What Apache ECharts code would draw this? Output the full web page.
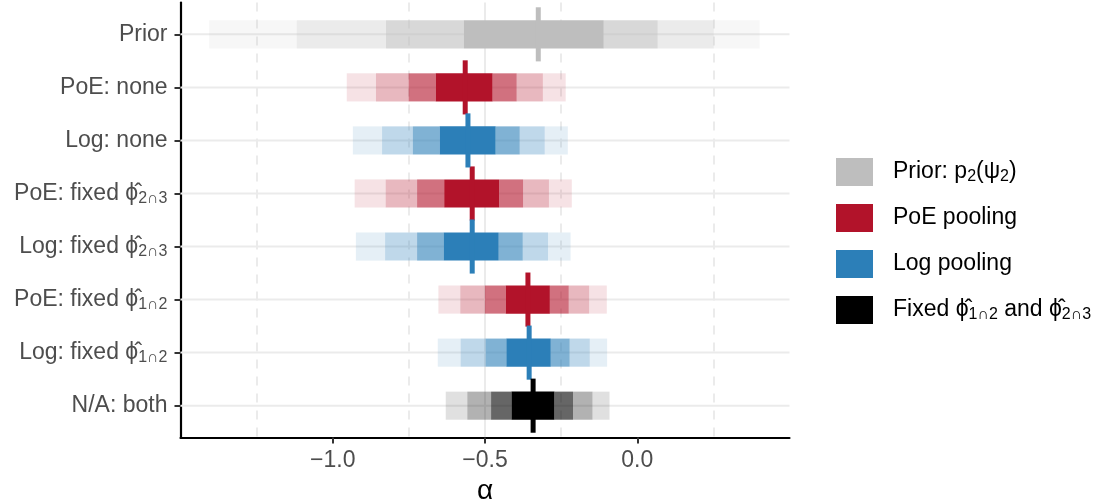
<!DOCTYPE html>
<html>
<head>
<meta charset="utf-8">
<script src="https://cdn.jsdelivr.net/npm/echarts@6/dist/echarts.min.js"></script>
<style>
  html, body { margin: 0; padding: 0; background: #fff; }
  #chart { width: 1107px; height: 501px; }
</style>
</head>
<body>
<div id="chart"></div>
<script>
// rows from top to bottom
var rowKeys = ['Prior', 'PoE: none', 'Log: none', 'PoE: fixed 23', 'Log: fixed 23', 'PoE: fixed 12', 'Log: fixed 12', 'N/A: both'];
var rowGroup = ['prior', 'poe', 'log', 'poe', 'log', 'poe', 'log', 'both'];

// interval bounds, outermost (lo99/hi99) to innermost (lo50/hi50)
var lo99 = [-1.406, -0.954, -0.934, -0.928, -0.924, -0.653, -0.655, -0.629];
var lo95 = [-1.118, -0.858, -0.838, -0.826, -0.828, -0.581, -0.580, -0.558];
var lo80 = [-0.825, -0.751, -0.737, -0.723, -0.723, -0.500, -0.498, -0.480];
var lo50 = [-0.570, -0.662, -0.649, -0.634, -0.636, -0.432, -0.430, -0.413];
var hi50 = [-0.110, -0.475, -0.465, -0.453, -0.455, -0.287, -0.284, -0.272];
var hi80 = [0.067, -0.396, -0.386, -0.375, -0.376, -0.225, -0.222, -0.211];
var hi95 = [0.251, -0.310, -0.304, -0.290, -0.293, -0.158, -0.156, -0.147];
var hi99 = [0.402, -0.235, -0.228, -0.215, -0.219, -0.100, -0.099, -0.091];
var median = [-0.325, -0.565, -0.556, -0.542, -0.542, -0.359, -0.355, -0.342];

var xTicks = [-1, -0.5, 0];
var xTickLabels = ['\u22121.0', '\u22120.5', '0.0'];

var PHI = '\u03D5\u0302';
var groups = ['prior', 'poe', 'log', 'both'];
var groupColor = { prior: '#BEBEBE', poe: '#B2132A', log: '#2C7FB8', both: '#000000' };
var groupLabel = {
  prior: 'Prior: p{sub|2}(\u03C8{sub|2})',
  poe: 'PoE pooling',
  log: 'Log pooling',
  both: 'Fixed {phi|' + PHI + '}{sub|1\u22292} and {phi|' + PHI + '}{sub|2\u22293}'
};
var rowLabel = [
  'Prior',
  'PoE: none',
  'Log: none',
  'PoE: fixed {phi|' + PHI + '}{sub|2\u22293}',
  'Log: fixed {phi|' + PHI + '}{sub|2\u22293}',
  'PoE: fixed {phi|' + PHI + '}{sub|1\u22292}',
  'Log: fixed {phi|' + PHI + '}{sub|1\u22292}',
  'N/A: both'
];

var levelOpacity = [1, 0.6, 0.3, 0.12];
var FONT = 'Liberation Sans, Arial, sans-serif';

function renderInterval(params, api) {
  var y = api.value(0);
  var band = api.size([0, 1])[1];
  var barH = band * 0.53;
  var medH = band * 1.02;
  var cy = api.coord([0, y])[1];
  var px = function (v) { return api.coord([v, y])[0]; };
  var color = api.visual('color');
  var bounds = [
    [api.value(4), api.value(5)],
    [api.value(3), api.value(6)],
    [api.value(2), api.value(7)],
    [api.value(1), api.value(8)]
  ];
  var children = [];
  for (var k = 0; k < bounds.length; k++) {
    var pieces;
    if (k == 0) {
      pieces = [[bounds[0][0], bounds[0][1]]];
    } else {
      pieces = [[bounds[k][0], bounds[k - 1][0]], [bounds[k - 1][1], bounds[k][1]]];
    }
    for (var p = 0; p < pieces.length; p++) {
      var x0 = px(pieces[p][0]), x1 = px(pieces[p][1]);
      children.push({
        type: 'rect',
        shape: { x: x0, y: cy - barH / 2, width: x1 - x0, height: barH },
        style: { fill: color, opacity: levelOpacity[k] }
      });
    }
  }
  var mx = px(api.value(9));
  children.push({
    type: 'rect',
    shape: { x: mx - 2.5, y: cy - medH / 2, width: 5, height: medH },
    style: { fill: color }
  });
  return { type: 'group', children: children };
}

function renderRowLine(params, api) {
  var cs = params.coordSys;
  var cy = api.coord([0, api.value(0)])[1];
  return {
    type: 'line',
    shape: { x1: cs.x, y1: cy, x2: cs.x + cs.width, y2: cy },
    style: { stroke: '#EBEBEB', lineWidth: 2 }
  };
}

var series = [{
  name: 'rowlines',
  type: 'custom',
  renderItem: renderRowLine,
  data: rowKeys.map(function (r, i) { return [i]; }),
  z: 1,
  silent: true
}];

groups.forEach(function (g) {
  var data = [];
  for (var i = 0; i < rowKeys.length; i++) {
    if (rowGroup[i] != g) continue;
    data.push([i, lo99[i], lo95[i], lo80[i], lo50[i], hi50[i], hi80[i], hi95[i], hi99[i], median[i]]);
  }
  series.push({
    name: g,
    type: 'custom',
    renderItem: renderInterval,
    itemStyle: { color: groupColor[g] },
    data: data,
    z: 3,
    silent: true
  });
});

var chart = echarts.init(document.getElementById('chart'), null, { renderer: 'canvas' });
chart.setOption({
  animation: false,
  backgroundColor: '#fff',
  textStyle: { fontFamily: FONT },
  grid: { left: 180.5, right: 317.5, top: 2.5, bottom: 63.5, containLabel: false, outerBoundsMode: 'none' },
  xAxis: {
    type: 'value',
    min: -1.5,
    max: 0.5,
    interval: 0.5,
    name: '\u03B1',
    nameLocation: 'middle',
    nameGap: 34,
    nameTextStyle: { fontSize: 28, color: '#000', fontFamily: FONT },
    axisLine: { onZero: false, lineStyle: { color: '#000', width: 2.2 } },
    axisTick: { show: true, length: 6, customValues: xTicks, lineStyle: { color: '#333', width: 2 } },
    axisLabel: {
      customValues: xTicks,
      margin: 12,
      fontSize: 23,
      color: '#4D4D4D',
      fontFamily: FONT,
      formatter: function (v) {
        var i = xTicks.indexOf(v);
        return i < 0 ? '' : xTickLabels[i];
      }
    },
    splitLine: { show: true, showMinLine: false, showMaxLine: false, lineStyle: { color: '#EBEBEB', width: 2 } },
    minorTick: { show: false, splitNumber: 2 },
    minorSplitLine: { show: true, lineStyle: { color: '#E6E6E6', width: 1.6, type: [9, 8] } }
  },
  yAxis: {
    type: 'value',
    inverse: true,
    min: -0.6,
    max: 7.6,
    axisLine: { show: true, onZero: false, lineStyle: { color: '#000', width: 2.2 } },
    axisTick: { show: true, length: 6, customValues: [0, 1, 2, 3, 4, 5, 6, 7], lineStyle: { color: '#333', width: 2 } },
    axisLabel: {
      customValues: [0, 1, 2, 3, 4, 5, 6, 7],
      margin: 13,
      fontSize: 23,
      color: '#4D4D4D',
      fontFamily: FONT,
      formatter: function (v) { return rowLabel[v] || ''; },
      rich: {
        phi: { fontSize: 23, color: '#4D4D4D', fontFamily: FONT },
        sub: { fontSize: 16, color: '#4D4D4D', fontFamily: FONT, padding: [10, 0, 0, 0] }
      }
    },
    splitLine: { show: false }
  },
  legend: {
    data: groups,
    orient: 'vertical',
    left: 836,
    top: 158,
    padding: 0,
    icon: 'rect',
    itemWidth: 37,
    itemHeight: 28,
    itemGap: 18,
    selectedMode: false,
    formatter: function (name) { return groupLabel[name]; },
    textStyle: {
      fontSize: 23,
      color: '#000',
      fontFamily: FONT,
      padding: [0, 0, 0, 15],
      rich: {
        phi: { fontSize: 23, color: '#000', fontFamily: FONT },
        sub: { fontSize: 16, color: '#000', fontFamily: FONT, padding: [10, 0, 0, 0] }
      }
    }
  },
  series: series
});
</script>
</body>
</html>
